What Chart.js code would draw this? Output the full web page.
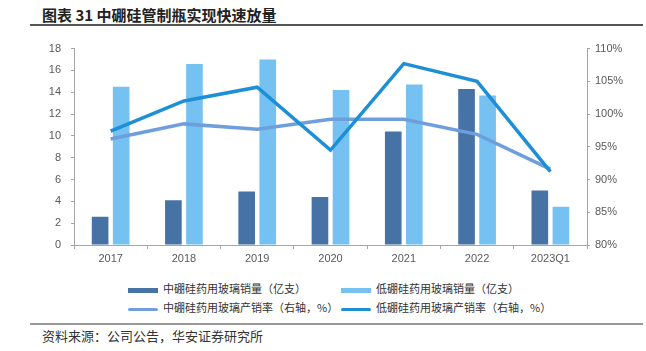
<!DOCTYPE html>
<html>
<head>
<meta charset="utf-8">
<script src="https://cdn.jsdelivr.net/npm/chart.js@4"></script>
<style>
    body { margin: 0; width: 646px; height: 351px; background: #fff; position: relative; overflow: hidden; font-family: "Noto Sans CJK SC", sans-serif; }
    #title { position: absolute; left: 42px; top: 4px; font-size: 15px; font-weight: bold; color: #222; white-space: nowrap; }
    #title-line { position: absolute; left: 30px; top: 24px; width: 613px; height: 2px; background: #555; }
    #wrap { position: absolute; left: 0; top: 32px; width: 646px; height: 240px; }
    #legend { position: absolute; left: 0; top: 279px; width: 646px; height: 40px; font-size: 11px; color: #333; }
    .item { position: absolute; height: 18px; line-height: 18px; white-space: nowrap; }
    .sym { display: inline-block; width: 30px; vertical-align: middle; margin-right: 5px; }
    #foot-line { position: absolute; left: 30px; top: 323px; width: 613px; height: 2px; background: #999; }
    #source { position: absolute; left: 42px; top: 326px; font-size: 13px; color: #333; white-space: nowrap; }
</style>
</head>
<body>
<div id="title">图表 31 中硼硅管制瓶实现快速放量</div>
<div id="title-line"></div>
<div id="wrap"><canvas id="chart" width="646" height="240"></canvas></div>
<div id="legend"></div>
<div id="foot-line"></div>
<div id="source">资料来源：公司公告，华安证券研究所</div>
<script>
let categories = ['2017', '2018', '2019', '2020', '2021', '2022', '2023Q1']

// 销量（亿支）
let midVolume = [2.6, 4.1, 4.9, 4.4, 10.4, 14.3, 5.0]
let lowVolume = [14.5, 16.6, 17.0, 14.2, 14.7, 13.7, 3.5]

// 产销率（%）
let midRate = [96.2, 98.5, 97.7, 99.2, 99.2, 96.9, 91.6]
let lowRate = [97.4, 102.0, 104.1, 94.5, 107.7, 105.0, 91.2]

let leftTicks = [0, 2, 4, 6, 8, 10, 12, 14, 16, 18]
let rightTicks = [80, 85, 90, 95, 100, 105, 110]

let tickFont = { family: '"Liberation Sans", Arial, sans-serif', size: 11 }
let tickColor = '#595959'
let axisColor = '#a6a6a6'

let datasets = [
    {
        type: 'bar', label: '中硼硅药用玻璃销量（亿支）', data: midVolume,
        backgroundColor: '#4672a6', yAxisID: 'y', order: 3,
        categoryPercentage: 0.575, barPercentage: 0.79
    },
    {
        type: 'bar', label: '低硼硅药用玻璃销量（亿支）', data: lowVolume,
        backgroundColor: '#75c1f2', yAxisID: 'y', order: 3,
        categoryPercentage: 0.575, barPercentage: 0.79
    },
    {
        type: 'line', label: '中硼硅药用玻璃产销率（右轴，%）', data: midRate,
        borderColor: '#6f9edc', borderWidth: 3.5, pointRadius: 0, yAxisID: 'y1', order: 2
    },
    {
        type: 'line', label: '低硼硅药用玻璃产销率（右轴，%）', data: lowRate,
        borderColor: '#1d8fd6', borderWidth: 3.5, pointRadius: 0, yAxisID: 'y1', order: 1
    }
]

function buildLegend() {
    let legend = document.querySelector('#legend')
    let spots = [[128, 0], [341, 0], [128, 19], [341, 19]]

    datasets.forEach((ds, i) => {
        let item = document.createElement('div')
        item.className = 'item'
        item.style.left = spots[i][0] + 'px'
        item.style.top = spots[i][1] + 'px'

        let sym = document.createElement('span')
        sym.className = 'sym'
        sym.style.height = ds.type === 'bar' ? '5px' : '3px'
        sym.style.borderRadius = ds.type === 'bar' ? '0' : '2px'
        sym.style.background = ds.type === 'bar' ? ds.backgroundColor : ds.borderColor

        item.appendChild(sym)
        item.appendChild(document.createTextNode(ds.label))
        legend.appendChild(item)
    })
}

window.onload = () => {
    buildLegend()

    let ctx = document.querySelector('#chart').getContext('2d')

    new Chart(ctx, {
        data: {
            labels: categories,
            datasets: datasets
        },
        options: {
            responsive: false,
            animation: false,
            layout: { padding: { top: 9, left: 0, right: 0, bottom: 0 } },
            plugins: {
                legend: { display: false },
                tooltip: { enabled: false }
            },
            scales: {
                x: {
                    offset: true,
                    grid: { drawOnChartArea: false, offset: true, color: axisColor, tickLength: 4 },
                    border: { color: axisColor, width: 1 },
                    ticks: { font: tickFont, color: tickColor, padding: 3, maxRotation: 0 },
                    afterFit: scale => { scale.height = 27 }
                },
                y: {
                    position: 'left',
                    min: 0, max: 18,
                    afterBuildTicks: scale => { scale.ticks = leftTicks.map(v => ({ value: v })) },
                    grid: { drawOnChartArea: false, color: axisColor, tickLength: 3 },
                    border: { color: axisColor, width: 1 },
                    ticks: { font: tickFont, color: tickColor, padding: 10 },
                    afterFit: scale => { scale.width = 74 }
                },
                y1: {
                    position: 'right',
                    min: 80, max: 110,
                    afterBuildTicks: scale => { scale.ticks = rightTicks.map(v => ({ value: v })) },
                    grid: { drawOnChartArea: false, color: axisColor, tickLength: 3 },
                    border: { color: axisColor, width: 1 },
                    ticks: { font: tickFont, color: tickColor, padding: 5, callback: v => v + '%' },
                    afterFit: scale => { scale.width = 59 }
                }
            }
        }
    })
}
</script>
</body>
</html>
